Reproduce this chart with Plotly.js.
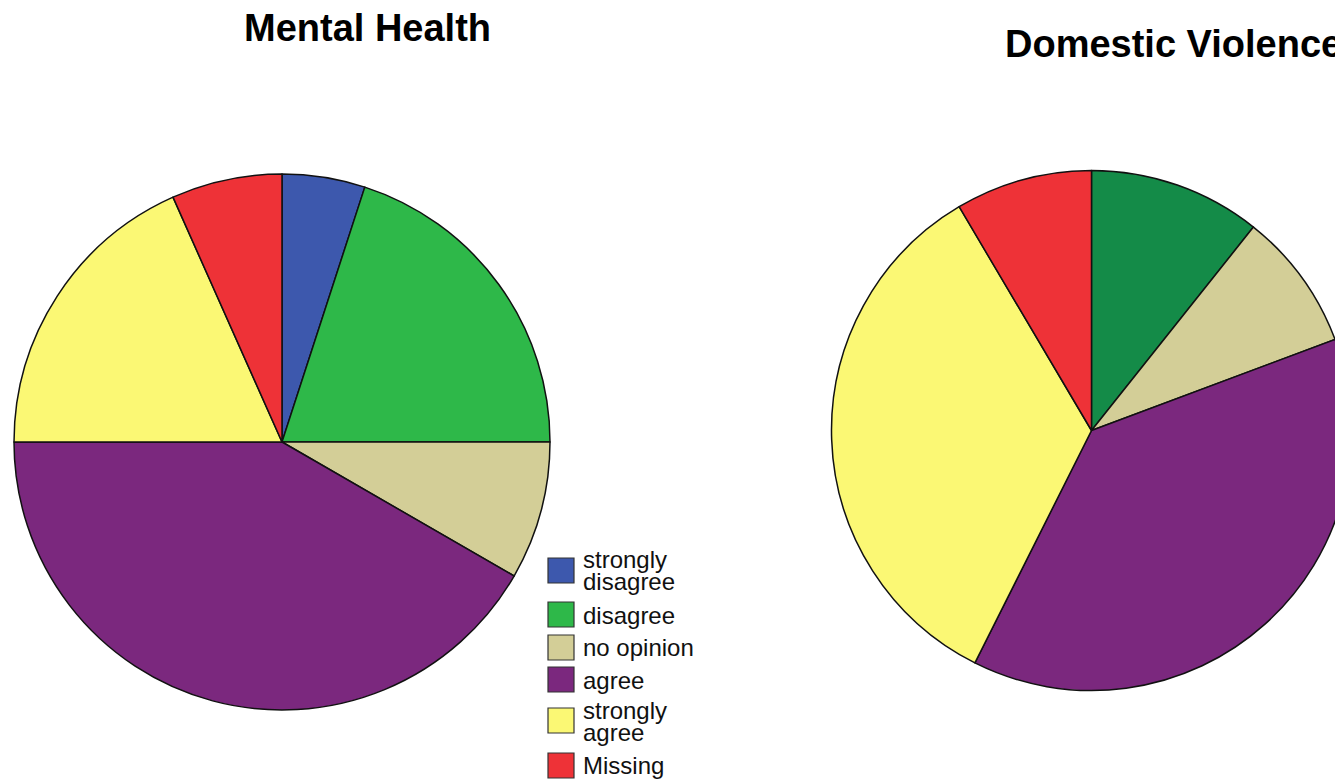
<!DOCTYPE html>
<html>
<head>
<meta charset="utf-8">
<script src="https://cdn.plot.ly/plotly-3.0.1.min.js"></script>
<style>
html, body { margin: 0; padding: 0; overflow: hidden; background: #fff; }
#chart { width: 1360px; height: 779px; }
</style>
</head>
<body>
<div id="chart"></div>
<script>
// ---- data ----
const categories = ["strongly disagree", "disagree", "no opinion", "agree", "strongly agree", "Missing"];
const mentalHealthCounts = [3, 12, 5, 25, 11, 4];
const mentalHealthColors = ["#3d58ad", "#2eb849", "#d3ce97", "#7b287e", "#fbf874", "#ee3237"];

const dvCategories = ["disagree", "no opinion", "agree", "strongly agree", "Missing"];
const domesticViolencePct = [10.7, 8.6, 38.1, 34.1, 8.5];
const dvColors = ["#148b48", "#d3ce97", "#7b287e", "#fbf874", "#ee3237"];

const legendLines = [["strongly", "disagree"], ["disagree"], ["no opinion"], ["agree"], ["strongly", "agree"], ["Missing"]];

// ---- layout helpers (pixel -> paper) ----
const W = 1360, H = 779;
const px = x => x / W;
const py = y => 1 - y / H;

const font = "Liberation Sans, Arial, Helvetica, sans-serif";

const traces = [
  {
    type: "pie",
    labels: categories,
    values: mentalHealthCounts,
    sort: false,
    direction: "clockwise",
    rotation: 0,
    marker: { colors: mentalHealthColors, line: { color: "#111", width: 1.5 } },
    textinfo: "none",
    hoverinfo: "label+value+percent",
    domain: { x: [px(14), px(550)], y: [py(710), py(174)] },
    showlegend: false
  },
  {
    type: "pie",
    labels: dvCategories,
    values: domesticViolencePct,
    sort: false,
    direction: "clockwise",
    rotation: 0,
    marker: { colors: dvColors, line: { color: "#111", width: 1.5 } },
    textinfo: "none",
    hoverinfo: "label+value",
    domain: { x: [px(831.5), px(1351.5)], y: [py(690.5), py(170.5)] },
    showlegend: false
  }
];

// custom legend (large swatches, tight two-line labels like the original)
const swatchTops = [558, 602, 635, 667, 708, 753];
const lineBaselines = [[567, 589], [623], [655], [688], [718, 740], [773]];
const shapes = [];
const annotations = [
  { text: "<b>Mental Health</b>", x: px(367), y: py(28), xref: "paper", yref: "paper",
    xanchor: "center", yanchor: "middle", showarrow: false, font: { family: font, size: 38, color: "#000" } },
  { text: "<b>Domestic Violence</b>", x: px(1003), y: py(44), xref: "paper", yref: "paper",
    xanchor: "left", yanchor: "middle", showarrow: false, font: { family: font, size: 38, color: "#000" } }
];
categories.forEach((c, i) => {
  const t = swatchTops[i];
  shapes.push({ type: "rect", xref: "paper", yref: "paper",
    x0: px(548), x1: px(574), y0: py(t), y1: py(t + 25),
    fillcolor: mentalHealthColors[i], line: { color: "#333", width: 1.2 } });
  legendLines[i].forEach((ln, j) => {
    annotations.push({ text: ln, x: px(581), y: py(lineBaselines[i][j] - 8), xref: "paper", yref: "paper",
      xanchor: "left", yanchor: "middle", showarrow: false, font: { family: font, size: 24, color: "#111" } });
  });
});

const layout = {
  width: W, height: H,
  margin: { l: 0, r: 0, t: 0, b: 0 },
  paper_bgcolor: "#fff",
  plot_bgcolor: "#fff",
  showlegend: false,
  shapes: shapes,
  annotations: annotations
};

Plotly.newPlot("chart", traces, layout, { displayModeBar: false, staticPlot: true });
</script>
</body>
</html>
